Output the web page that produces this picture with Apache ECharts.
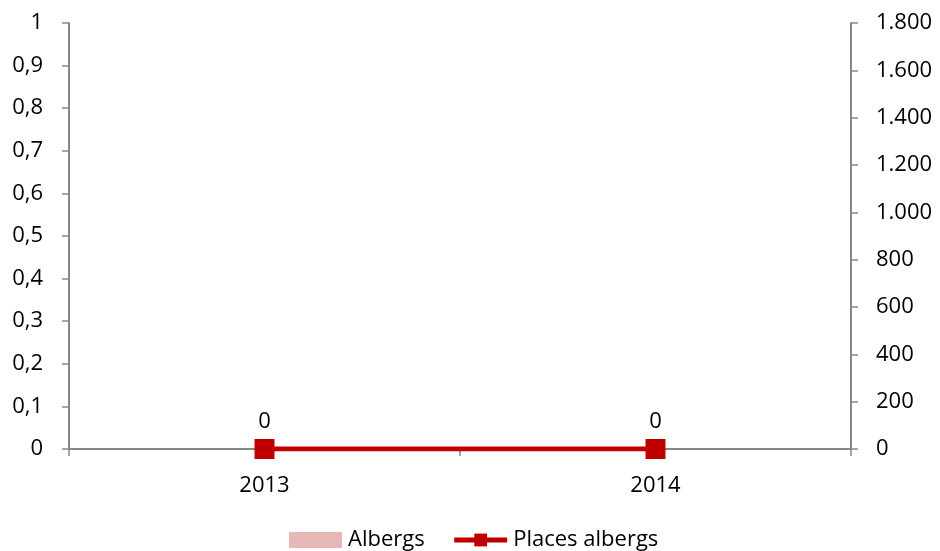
<!DOCTYPE html>
<html>
<head>
<meta charset="utf-8">
<style>
  html, body { margin: 0; padding: 0; background: #fff; }
  #chart { width: 940px; height: 551px; }
</style>
<script src="https://cdn.jsdelivr.net/npm/echarts@6/dist/echarts.min.js"></script>
</head>
<body>
<div id="chart"></div>
<script>
// Hostel counts (bars, left axis) and hostel places (line, right axis) per year
const years = ['2013', '2014'];
const albergs = [0, 0];
const placesAlbergs = [0, 0];
const leftAxis = { min: 0, max: 1, interval: 0.1 };
const rightAxis = { min: 0, max: 1800, interval: 200 };

const FONT = 'Open Sans, Noto Sans, sans-serif';
const FONT_SIZE = 22;
const AXIS_COLOR = '#868686';
const BAR_COLOR = '#e6b8b7';
const LINE_COLOR = '#c00000';

function fmtDecimal(v) {
  return String(Math.round(v * 10) / 10).replace('.', ',');
}
function fmtThousands(v) {
  return String(Math.round(v)).replace(/\B(?=(\d{3})+(?!\d))/g, '.');
}

const chart = echarts.init(document.getElementById('chart'), null, { renderer: 'canvas' });
chart.setOption({
  animation: false,
  textStyle: { fontFamily: FONT },
  grid: { left: 69, right: 89, top: 23, bottom: 102, containLabel: false },
  legend: {
    top: 524,
    left: 284,
    itemWidth: 53,
    itemHeight: 16,
    itemGap: 27,
    textStyle: { fontSize: FONT_SIZE, color: '#000', fontFamily: FONT, padding: [0, 0, 0, 1] },
    data: [
      { name: 'Albergs', icon: 'rect', itemStyle: { color: BAR_COLOR } },
      { name: 'Places albergs', lineStyle: { width: 5, color: LINE_COLOR } }
    ]
  },
  xAxis: {
    type: 'category',
    data: years,
    boundaryGap: true,
    axisLine: { lineStyle: { color: AXIS_COLOR, width: 2 } },
    axisTick: { show: true, interval: 0, length: 7, lineStyle: { color: AXIS_COLOR, width: 1.5 } },
    axisLabel: { fontSize: FONT_SIZE, color: '#000', margin: 26, fontFamily: FONT }
  },
  yAxis: [
    {
      type: 'value',
      position: 'left',
      min: leftAxis.min, max: leftAxis.max, interval: leftAxis.interval,
      axisLine: { show: true, lineStyle: { color: AXIS_COLOR, width: 2 } },
      axisTick: { show: true, length: 7, lineStyle: { color: AXIS_COLOR, width: 1.5 } },
      splitLine: { show: false },
      axisLabel: { fontSize: FONT_SIZE, color: '#000', margin: 26, fontFamily: FONT, formatter: fmtDecimal }
    },
    {
      type: 'value',
      position: 'right',
      min: rightAxis.min, max: rightAxis.max, interval: rightAxis.interval,
      axisLine: { show: true, lineStyle: { color: AXIS_COLOR, width: 2 } },
      axisTick: { show: true, length: 7, lineStyle: { color: AXIS_COLOR, width: 1.5 } },
      splitLine: { show: false },
      axisLabel: { fontSize: FONT_SIZE, color: '#000', margin: 25, fontFamily: FONT, formatter: fmtThousands }
    }
  ],
  series: [
    {
      name: 'Albergs',
      type: 'bar',
      yAxisIndex: 0,
      data: albergs,
      barWidth: '40%',
      itemStyle: { color: BAR_COLOR }
    },
    {
      name: 'Places albergs',
      type: 'line',
      yAxisIndex: 1,
      data: placesAlbergs,
      symbol: 'rect',
      symbolSize: 20,
      lineStyle: { color: LINE_COLOR, width: 5 },
      itemStyle: { color: LINE_COLOR },
      label: {
        show: true,
        position: 'top',
        distance: 6,
        fontSize: FONT_SIZE,
        color: '#000',
        fontFamily: FONT,
        formatter: p => fmtThousands(p.value)
      },
      z: 5
    }
  ]
});
</script>
</body>
</html>
